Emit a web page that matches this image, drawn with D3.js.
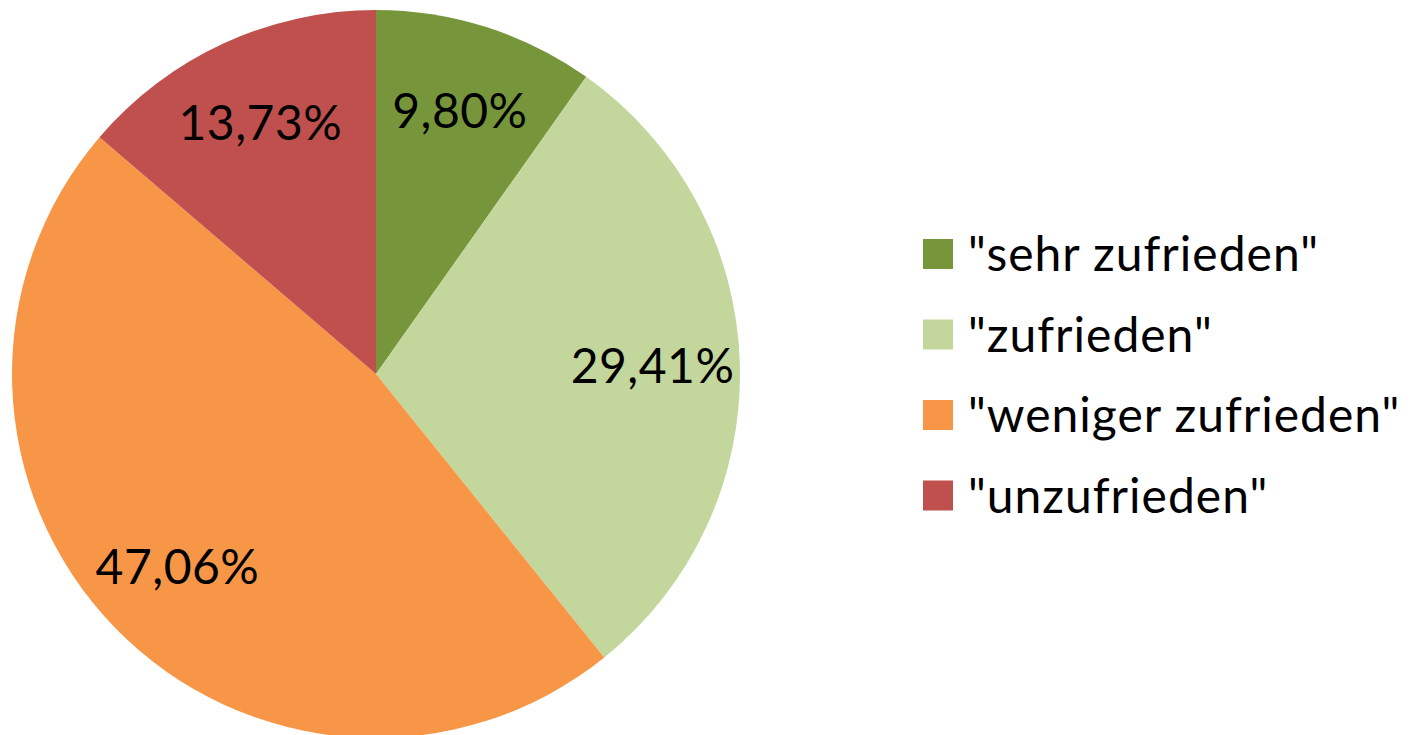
<!DOCTYPE html>
<html>
<head>
<meta charset="utf-8">
<script src="https://cdn.jsdelivr.net/npm/d3@7"></script>
<style>
  html, body { margin: 0; padding: 0; background: #fff; }
</style>
</head>
<body>
<div id="chart"></div>
<script>
// Zufriedenheit – pie chart

// Data
const categories = ['"sehr zufrieden"', '"zufrieden"', '"weniger zufrieden"', '"unzufrieden"'];
const values = [9.80, 29.41, 47.06, 13.73];
const colors = ["#77963b", "#c3d69b", "#f79646", "#c0504d"];

const width = 1413, height = 735;
const cx = 376, cy = 374, radius = 364;
const fontFamily = "Lato, 'Open Sans', sans-serif";

const svg = d3.select("#chart")
  .append("svg")
    .attr("width", width)
    .attr("height", height)
    .attr("viewBox", [0, 0, width, height]);

const pie = d3.pie().sort(null).value(d => d)(values);

const arc = d3.arc().innerRadius(0).outerRadius(radius);
// labels sit towards the outer edge, like Excel's "best fit"
const labelArc = d3.arc().innerRadius(radius * 0.52).outerRadius(radius * 1.0);

const g = svg.append("g").attr("transform", `translate(${cx},${cy})`);

g.selectAll("path")
  .data(pie)
  .join("path")
    .attr("d", arc)
    .attr("fill", (d, i) => colors[i]);

const fmt = v => d3.format(".2f")(v).replace(".", ",") + "%";

g.selectAll("text")
  .data(pie)
  .join("text")
    .attr("transform", d => `translate(${labelArc.centroid(d)})`)
    .attr("text-anchor", "middle")
    .attr("dy", "0.36em")
    .attr("font-family", fontFamily)
    .attr("font-size", 48)
    .attr("letter-spacing", 0.5)
    .attr("fill", "#000")
    .text(d => fmt(d.data));

// Legend
const legend = svg.append("g")
  .attr("transform", "translate(923,254)");

const row = legend.selectAll("g")
  .data(categories)
  .join("g")
    .attr("transform", (d, i) => `translate(0,${i * 80.5})`);

row.append("rect")
  .attr("x", 0)
  .attr("y", -15)
  .attr("width", 30)
  .attr("height", 30)
  .attr("fill", (d, i) => colors[i]);

row.append("text")
  .attr("x", 45)
  .attr("dy", "0.36em")
  .attr("font-family", fontFamily)
  .attr("font-size", 48)
  .attr("letter-spacing", 1)
  .attr("fill", "#000")
  .text(d => d);
</script>
</body>
</html>
